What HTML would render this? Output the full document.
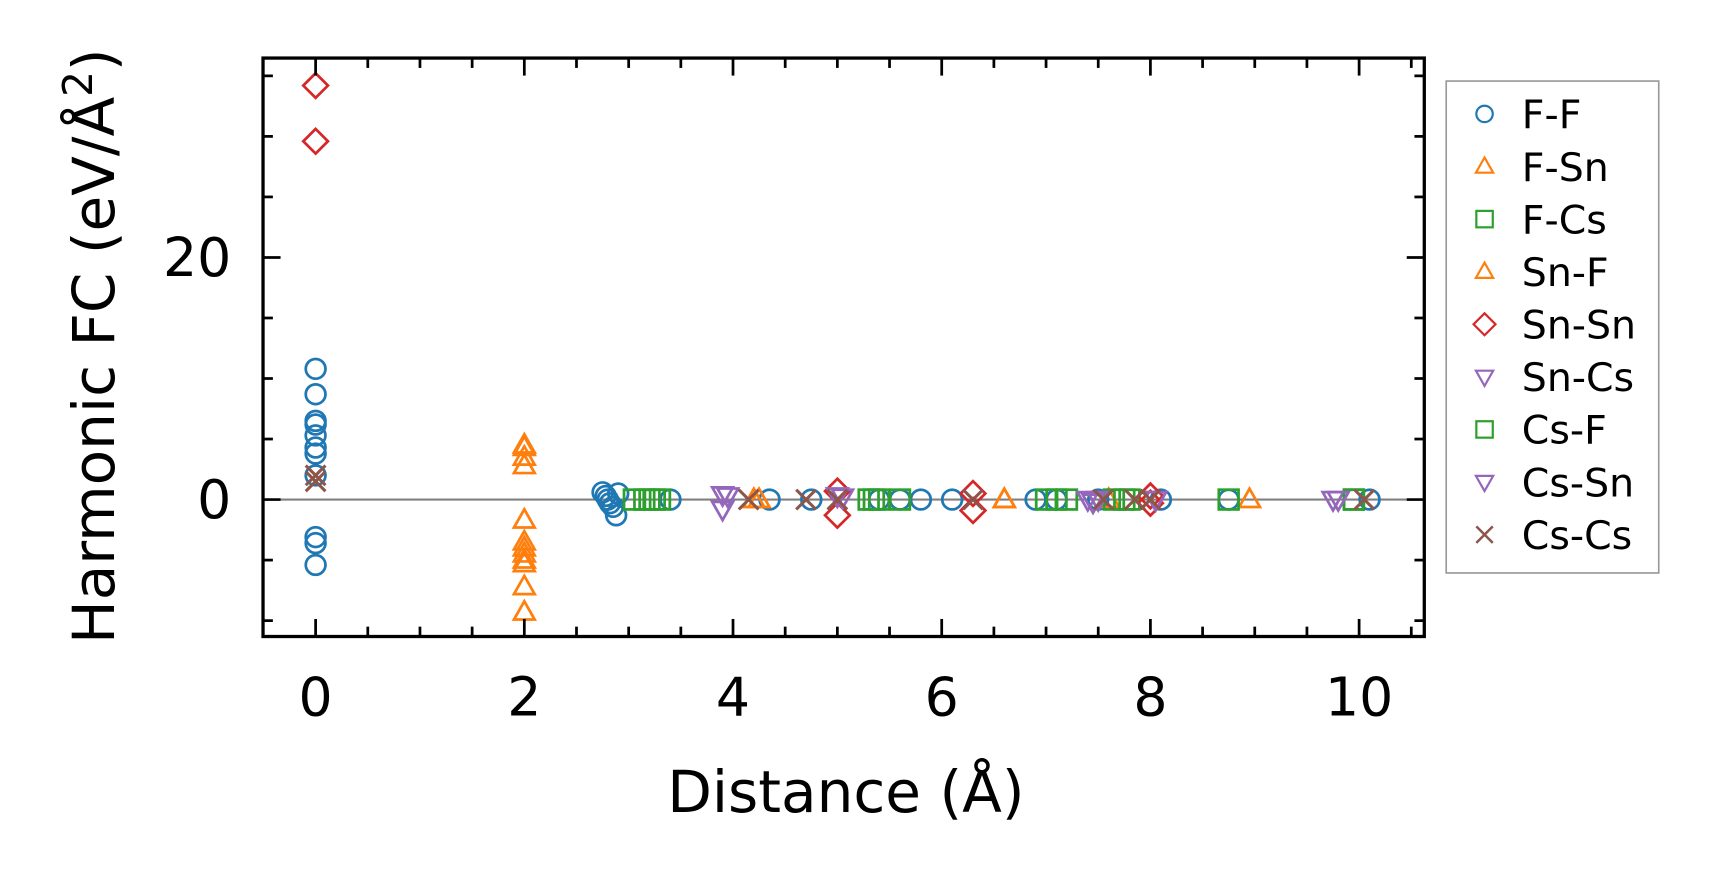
<!DOCTYPE html>
<html><head><meta charset="utf-8"><style>html,body{margin:0;padding:0;background:#fff}svg{display:block}text{font-family:"DejaVu Sans","Liberation Sans",sans-serif}</style></head>
<body>
<svg id="chart" width="1718" height="883" viewBox="0 0 1568 806" xmlns="http://www.w3.org/2000/svg">
<g id="marks"></g>
<g id="axes"></g>
<g id="legend"></g>
</svg>
<script>
const seriesNames = ["F-F","F-Sn","F-Cs","Sn-F","Sn-Sn","Sn-Cs","Cs-F","Cs-Sn","Cs-Cs"];
const ffX = [0,0,0,0,0,0,0,0,0,0,0,2.75,2.78,2.8,2.82,2.85,2.88,2.9,3.4,4.35,4.75,5.4,5.6,5.8,6.1,6.9,7.1,7.5,8.1,8.75,10.1];
const ffY = [10.8,8.7,6.5,6.2,5.3,4.3,3.8,2.0,-3.1,-3.6,-5.4,0.6,0.3,0,-0.3,-0.6,-1.3,0.5,0,0,0,0,0,0,0,0,0,0,0,0,0];
const fsnX = [2,2,2,2,2,2,2,2,2,4.2,6.6,7.6,8.95];
const fsnY = [4.5,3.5,2.8,-1.7,-3.5,-4.5,-5.3,-7.2,-9.3,0,0,0,0];
const fcsX = [3.05,3.15,3.25,3.3,5.3,5.4,5.6,7.0,7.2,7.65,7.8,8.75,9.95];
const fcsY = [0,0,0,0,0,0,0,0,0,0,0,0,0];
const snfX = [2,2,2,4.25,6.6];
const snfY = [4.3,-4.0,-5.0,0,0];
const snsnX = [0,0,5.0,5.0,6.3,6.3,8.0,8.0];
const snsnY = [34.2,29.6,0.7,-1.3,0.5,-0.9,0.3,-0.3];
const sncsX = [3.9,3.9,5.0,7.4,7.5,8.05,9.75];
const sncsY = [0.4,-0.8,0.3,0,0,0,0];
const csfX = [3.2,5.35,7.1,7.75,9.95];
const csfY = [0,0,0,0,0];
const cssnX = [3.95,5.05,7.45,8.05,9.8];
const cssnY = [0.3,0.2,-0.2,0,0];
const cscsX = [0,0,4.15,4.7,5.0,6.3,7.55,7.85,8.0,10.05];
const cscsY = [2.0,1.5,0,0,0,0,0,0,0,0];
const xTicks = [0,2,4,6,8,10];
const yTicks = [0,20];

const NS="http://www.w3.org/2000/svg";
const L=240,R=1300,T=53,B=581;
const xs=v=>288+v*95.25;
const ys=v=>456-v*11.05;
function mk(tag,attrs,parent){const e=document.createElementNS(NS,tag);for(const k in attrs)e.setAttribute(k,attrs[k]);parent.appendChild(e);return e;}
const marks=document.getElementById('marks'),axes=document.getElementById('axes'),legend=document.getElementById('legend');
const colors={b:"#1f77b4",o:"#ff7f0e",g:"#2ca02c",r:"#d62728",p:"#9467bd",br:"#8c564b"};
function marker(type,cx,cy,col,parent,s,w){
  s=s||9;w=w||2.5;let e;
  if(type==='o'){e=mk('circle',{cx:cx,cy:cy,r:s,fill:'none',stroke:col,'stroke-width':w},parent);}
  else if(type==='^'){e=mk('polygon',{points:`${cx},${cy-s*1.1} ${cx-s*1.05},${cy+s*0.75} ${cx+s*1.05},${cy+s*0.75}`,fill:'none',stroke:col,'stroke-width':w},parent);}
  else if(type==='v'){e=mk('polygon',{points:`${cx},${cy+s*1.1} ${cx-s*1.05},${cy-s*0.75} ${cx+s*1.05},${cy-s*0.75}`,fill:'none',stroke:col,'stroke-width':w},parent);}
  else if(type==='s'){e=mk('rect',{x:cx-s,y:cy-s,width:2*s,height:2*s,fill:'none',stroke:col,'stroke-width':w},parent);}
  else if(type==='D'){e=mk('polygon',{points:`${cx},${cy-s*1.25} ${cx+s*1.25},${cy} ${cx},${cy+s*1.25} ${cx-s*1.25},${cy}`,fill:'none',stroke:col,'stroke-width':w},parent);}
  else {e=mk('path',{d:`M${cx-s},${cy-s}L${cx+s},${cy+s}M${cx-s},${cy+s}L${cx+s},${cy-s}`,fill:'none',stroke:col,'stroke-width':w+0.3},parent);}
  return e;
}
const zl=mk('line',{x1:L,x2:R,y1:ys(0),y2:ys(0),stroke:'#808080','stroke-width':2},marks);


const series=[["o",colors.b,ffX,ffY],["^",colors.o,fsnX,fsnY],["s",colors.g,fcsX,fcsY],["^",colors.o,snfX,snfY],["D",colors.r,snsnX,snsnY],["v",colors.p,sncsX,sncsY],["s",colors.g,csfX,csfY],["v",colors.p,cssnX,cssnY],["x",colors.br,cscsX,cscsY]];
series.forEach((s,i)=>{
  const g=mk('g',{},marks);
  
  
  s[2].forEach((x,j)=>{
    const m=marker(s[0],xs(x),ys(s[3][j]),s[1],g);
    
    
  });
});
const fr=mk('rect',{x:L,y:T,width:R-L,height:B-T,fill:'none',stroke:'#000','stroke-width':3},axes);


for(let v=-0.5;v<=10.6;v+=0.5){
  const major=Math.abs(v%2)<1e-6, len=major?16:9, x=xs(v);
  if(x<L+1||x>R-1)continue;
  mk('line',{x1:x,x2:x,y1:B,y2:B-len,stroke:'#000','stroke-width':2.5},axes);
  mk('line',{x1:x,x2:x,y1:T,y2:T+len,stroke:'#000','stroke-width':2.5},axes);
}
xTicks.forEach(v=>{
  const t=mk('text',{x:xs(v),y:653,'font-size':49,'text-anchor':'middle',fill:'#000'},axes);
  t.textContent=v;
  
  
});
for(let v=-10;v<=35;v+=5){
  const major=v%20===0, len=major?16:9, y=ys(v);
  mk('line',{x1:L,x2:L+len,y1:y,y2:y,stroke:'#000','stroke-width':2.5},axes);
  mk('line',{x1:R,x2:R-len,y1:y,y2:y,stroke:'#000','stroke-width':2.5},axes);
}
yTicks.forEach(v=>{
  const t=mk('text',{x:211,y:ys(v)+17,'font-size':49,'text-anchor':'end',fill:'#000'},axes);
  t.textContent=v;
  
  
});
const xl=mk('text',{x:772,y:741,'font-size':53,'text-anchor':'middle',fill:'#000'},axes);
xl.textContent='Distance (Å)';


const yl=mk('text',{x:0,y:0,'font-size':53,'text-anchor':'middle',fill:'#000',transform:'translate(104,316) rotate(-90)'},axes);
yl.innerHTML='Harmonic FC (eV/Å<tspan dy="-20" font-size="37">2</tspan><tspan dy="20">)</tspan>';


const lb=mk('rect',{x:1320,y:74,width:194,height:449,fill:'#fff',stroke:'#999','stroke-width':1.5},legend);


series.forEach((s,i)=>{
  const g=mk('g',{},legend);
  
  
  const y=104+i*48;
  marker(s[0],1355,y,s[1],g,s[0]==='D'?8:7.5,2);
  const t=mk('text',{x:1389,y:y+13,'font-size':36,fill:'#000'},g);
  t.textContent=seriesNames[i];
});
</script>
</body></html>
